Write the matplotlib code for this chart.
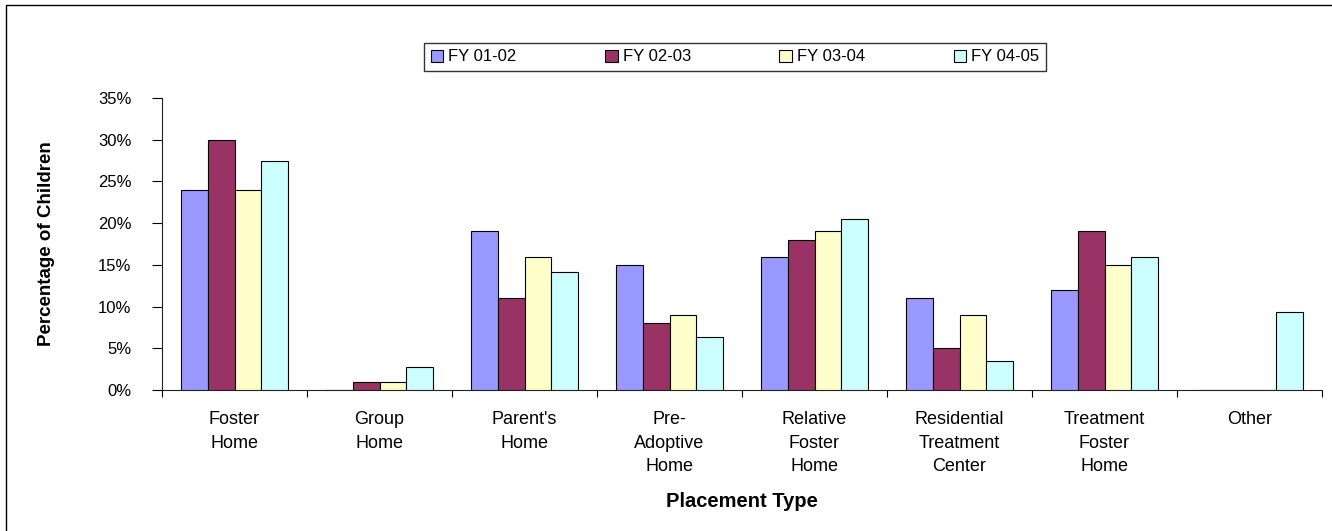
import numpy as np
import matplotlib
matplotlib.use("Agg")
import matplotlib.pyplot as plt
from matplotlib.patches import Rectangle
from matplotlib.ticker import FuncFormatter

plt.rcParams['font.family'] = ['Liberation Sans', 'DejaVu Sans']

# Placement types and the share of children (%) per fiscal year
categories = ["Foster\nHome", "Group\nHome", "Parent's\nHome", "Pre-\nAdoptive\nHome",
              "Relative\nFoster\nHome", "Residential\nTreatment\nCenter",
              "Treatment\nFoster\nHome", "Other"]
series_names = ["FY 01-02", "FY 02-03", "FY 03-04", "FY 04-05"]
fy_01_02 = [24.0, 0.0, 19.0, 15.0, 16.0, 11.0, 12.0, 0.0]
fy_02_03 = [30.0, 1.0, 11.0, 8.0, 18.0, 5.0, 19.0, 0.0]
fy_03_04 = [24.0, 1.0, 16.0, 9.0, 19.0, 9.0, 15.0, 0.0]
fy_04_05 = [27.5, 2.8, 14.1, 6.3, 20.5, 3.5, 16.0, 9.3]
y_ticks = [0, 5, 10, 15, 20, 25, 30, 35]

series = [fy_01_02, fy_02_03, fy_03_04, fy_04_05]
colors = ["#9999FF", "#993366", "#FFFFCC", "#CCFFFF"]

W, H = 1332, 531
fig = plt.figure(figsize=(W / 100, H / 100), dpi=100)
ax = fig.add_axes([162 / W, (H - 390) / H, (1322 - 162) / W, (390 - 98) / H])

n_cat = len(categories)
centers = np.arange(n_cat) + 0.5
bar_w = 0.183
for i, (vals, name, col) in enumerate(zip(series, series_names, colors)):
    ax.bar(centers + (i - 1.5) * bar_w, vals, width=bar_w, color=col,
           edgecolor="black", linewidth=0.8, label=name, zorder=3)

ax.set_xlim(0, n_cat)
ax.set_ylim(0, 35)
ax.set_yticks(y_ticks)
ax.yaxis.set_major_formatter(FuncFormatter(lambda v, p: f"{v:.0f}%"))
ax.tick_params(axis="y", length=7, width=0.8, pad=15, labelsize=12, direction="out")

ax.set_xticks(np.arange(n_cat + 1))
ax.set_xticklabels([])
ax.tick_params(axis="x", which="major", length=5, width=0.8, direction="out")
ax.set_xticks(centers, minor=True)
ax.set_xticklabels(categories, minor=True, fontsize=13)
ax.tick_params(axis="x", which="minor", length=0, pad=15)
for lbl in ax.get_xticklabels(minor=True):
    lbl.set_linespacing(1.52)

for s in ["top", "right"]:
    ax.spines[s].set_visible(False)
for s in ["left", "bottom"]:
    ax.spines[s].set_linewidth(0.8)
    ax.spines[s].set_color("#222222")

ax.set_ylabel("Percentage of Children", fontsize=13.5, fontweight="bold")
ax.yaxis.set_label_coords((47 - 162) / (1322 - 162), 0.5)
ax.yaxis.label.set_va("center")

ax.set_xlabel("Placement Type", fontsize=14.5, fontweight="bold")
ax.xaxis.set_label_coords(0.5, -(507 - 390) / (390 - 98))
ax.xaxis.label.set_va("baseline")

leg = fig.legend(loc="center", bbox_to_anchor=(424 / W, 1 - 72 / H, 622 / W, 30 / H),
                 bbox_transform=fig.transFigure, ncol=4, mode="expand", fontsize=12,
                 frameon=True, fancybox=False, edgecolor="black",
                 handlelength=0.75, handleheight=0.75, handletextpad=0.3,
                 borderpad=0.4, borderaxespad=0)
leg.get_frame().set_linewidth(1.0)

# outer chart-area border (top and left edges fall inside the canvas)
fig.add_artist(Rectangle((5.5 / W, -0.05), 1.1, 1 - 5.5 / H + 0.05,
                         transform=fig.transFigure, fill=False,
                         edgecolor="black", linewidth=1.0, clip_on=False))

fig.savefig("out.png", dpi=100)
